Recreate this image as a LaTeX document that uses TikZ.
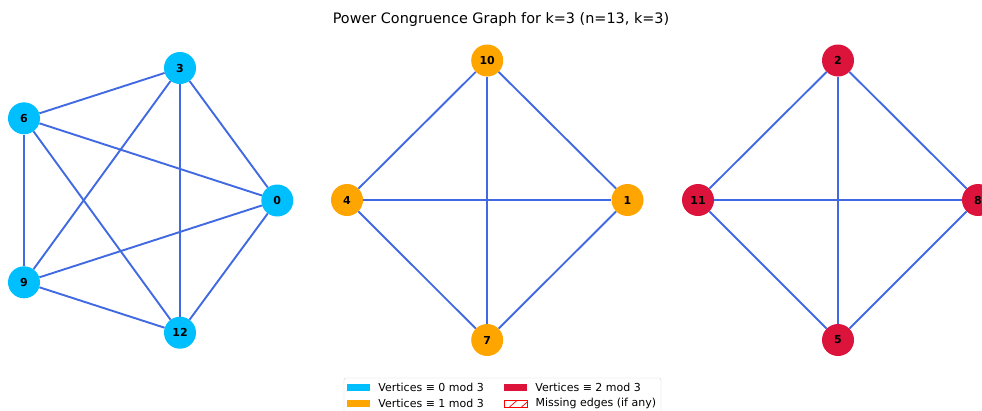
\documentclass[tikz,border=0pt]{standalone}
\usepackage{fontspec}
\setmainfont{DejaVu Sans}
\usepackage{tikz}
\usetikzlibrary{positioning}

\definecolor{skyc}{RGB}{0,191,255}
\definecolor{orangec}{RGB}{255,165,0}
\definecolor{crimsonc}{RGB}{220,20,60}
\definecolor{edgec}{RGB}{65,105,225}

\begin{document}
\begin{tikzpicture}[
  x=1pt, y=-1pt,
  vert/.style={circle, minimum size=32pt, inner sep=0pt, font=\fontsize{11}{12}\selectfont\bfseries},
  res0/.style={vert, fill=skyc},
  res1/.style={vert, fill=orangec},
  res2/.style={vert, fill=crimsonc},
  edge/.style={draw=edgec, line width=1.9pt},
  patch/.style={minimum width=23pt, minimum height=7pt, inner sep=0pt},
  legtext/.style={anchor=west, inner sep=0pt, font=\fontsize{11}{12}\selectfont}
]
\useasboundingbox (0,0) rectangle (982,410);
\clip (0,0) rectangle (982,410);

\node[font=\fontsize{14.4}{16}\selectfont] (title) at (501,20) {Power Congruence Graph for k=3 (n=13, k=3)};

% residue 0
\node[res0] (v3) at (180,68) {3};
\node[res0] (v6) at (24,118.3) {6};
\node[res0] (v0) at (277.3,200.5) {0};
\node[res0] (v9) at (24,282.3) {9};
\node[res0] (v12) at (180,332.7) {12};

% residue 1
\node[res1] (v10) at (487.2,60.5) {10};
\node[res1] (v4) at (347,200) {4};
\node[res1] (v1) at (627.5,200) {1};
\node[res1] (v7) at (487.2,340) {7};

% residue 2
\node[res2] (v2) at (838,60.5) {2};
\node[res2] (v11) at (698,200) {11};
\node[res2] (v8) at (978,200) {8};
\node[res2] (v5) at (838,340) {5};

\draw[edge] (v0) -- (v3);
\draw[edge] (v0) -- (v6);
\draw[edge] (v0) -- (v9);
\draw[edge] (v0) -- (v12);
\draw[edge] (v3) -- (v6);
\draw[edge] (v3) -- (v9);
\draw[edge] (v3) -- (v12);
\draw[edge] (v6) -- (v9);
\draw[edge] (v6) -- (v12);
\draw[edge] (v9) -- (v12);

\draw[edge] (v10) -- (v4);
\draw[edge] (v10) -- (v1);
\draw[edge] (v10) -- (v7);
\draw[edge] (v4) -- (v1);
\draw[edge] (v4) -- (v7);
\draw[edge] (v1) -- (v7);

\draw[edge] (v2) -- (v11);
\draw[edge] (v2) -- (v8);
\draw[edge] (v2) -- (v5);
\draw[edge] (v11) -- (v8);
\draw[edge] (v11) -- (v5);
\draw[edge] (v8) -- (v5);

% legend
\draw[black!18, rounded corners=2pt, fill=white] (344,378) rectangle (661,418);
\node[patch, fill=skyc] (p0) at (358.5,387.5) {};
\node[legtext, right=8pt of p0] (t0) {Vertices ≡ 0 mod 3};
\node[patch, fill=orangec] (p1) at (358.5,403.5) {};
\node[legtext, right=8pt of p1] (t1) {Vertices ≡ 1 mod 3};
\node[patch, fill=crimsonc] (p2) at (515.5,387.5) {};
\node[legtext, right=8pt of p2] (t2) {Vertices ≡ 2 mod 3};
\node[patch, draw=red, line width=0.8pt, fill=white,
  path picture={\draw[red, line width=0.7pt]
    ([xshift=-6pt]path picture bounding box.south) -- ([xshift=2pt]path picture bounding box.north)
    ([xshift=6pt]path picture bounding box.south) -- ([xshift=14pt]path picture bounding box.north);}] (p3) at (515.5,403.5) {};
\node[legtext, right=8pt of p3] (t3) {Missing edges (if any)};
\end{tikzpicture}
\end{document}
